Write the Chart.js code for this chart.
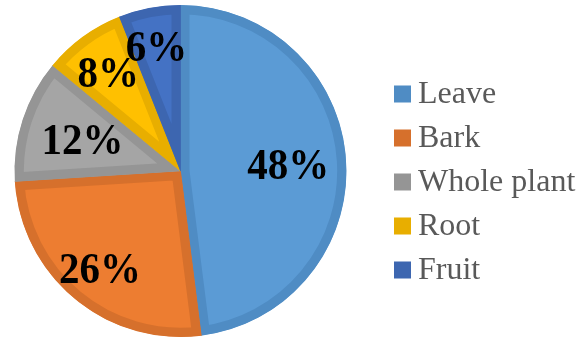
<!DOCTYPE html>
<html>
<head>
<meta charset="utf-8">
<script src="https://cdn.jsdelivr.net/npm/chart.js@4/dist/chart.umd.min.js"></script>
<style>
    html, body { margin: 0; padding: 0; background: #fff; }
    #wrap { width: 587px; height: 341px; position: relative; }
</style>
</head>
<body>
<div id="wrap"><canvas id="pie"></canvas></div>
<script>
// data
const categories = ["Leave", "Bark", "Whole plant", "Root", "Fruit"];
const shares = [48, 26, 12, 8, 6];

// kleuren (vulling en donkere rand, zoals Excel)
const fillColors = ["#5b9bd5", "#ed7d31", "#a5a5a5", "#ffc000", "#4472c4"];
const edgeColors = ["#4f8cc4", "#d6702c", "#959595", "#e8ae00", "#3d66b0"];

const PieChart = (() => {
    let _configMap = {
        labelFont: "bold 41px 'Liberation Serif', 'Times New Roman', serif",
        legendFont: "32px 'Liberation Serif', 'Times New Roman', serif",
        legendX: 394,
        legendTop: 94,
        legendStep: 44,
        boxSize: 17,
        // hoe ver het label van het midden staat (deel van de straal)
        labelRadius: [0.65, 0.76, 0.62, 0.74, 0.77]
    };

    const _labelPlugin = {
        id: "pctLabels",
        afterDatasetsDraw(chart) {
            const ctx = chart.ctx;
            const meta = chart.getDatasetMeta(0);
            ctx.save();
            ctx.font = _configMap.labelFont;
            ctx.fillStyle = "#000";
            ctx.textAlign = "center";
            ctx.textBaseline = "middle";
            meta.data.forEach((arc, i) => {
                const p = arc.getProps(["x", "y", "startAngle", "endAngle", "outerRadius"], true);
                const mid = (p.startAngle + p.endAngle) / 2;
                const r = p.outerRadius * _configMap.labelRadius[i];
                const lx = p.x + Math.cos(mid) * r;
                const ly = p.y + Math.sin(mid) * r + 4;
                // tekst iets hoger maken, net als in het origineel
                ctx.save();
                ctx.translate(lx, ly);
                ctx.scale(1, 1.06);
                ctx.fillText(shares[i] + "%", 0, 0);
                ctx.restore();
            });
            ctx.restore();
        }
    };

    const _legendPlugin = {
        id: "sideLegend",
        afterDraw(chart) {
            const ctx = chart.ctx;
            const c = _configMap;
            ctx.save();
            ctx.font = c.legendFont;
            ctx.textBaseline = "middle";
            ctx.textAlign = "left";
            chart.data.labels.forEach((label, i) => {
                const y = c.legendTop + i * c.legendStep;
                ctx.fillStyle = edgeColors[i];
                ctx.fillRect(c.legendX, y - c.boxSize / 2, c.boxSize, c.boxSize);
                ctx.fillStyle = "#595959";
                ctx.fillText(label, c.legendX + 24, y + 1);
            });
            ctx.restore();
        }
    };

    const init = function (ctx) {
        return new Chart(ctx, {
            type: "pie",
            data: {
                labels: categories,
                datasets: [{
                    data: shares,
                    backgroundColor: fillColors,
                    borderColor: edgeColors,
                    borderWidth: 9,
                    borderAlign: "inner"
                }]
            },
            options: {
                responsive: true,
                maintainAspectRatio: false,
                animation: false,
                layout: { padding: { left: 14, top: 5, right: 240, bottom: 4 } },
                plugins: {
                    legend: { display: false },
                    tooltip: { enabled: false }
                }
            },
            plugins: [_labelPlugin, _legendPlugin]
        });
    };

    return {
        init
    };
})();

PieChart.init(document.getElementById("pie"));
</script>
</body>
</html>
